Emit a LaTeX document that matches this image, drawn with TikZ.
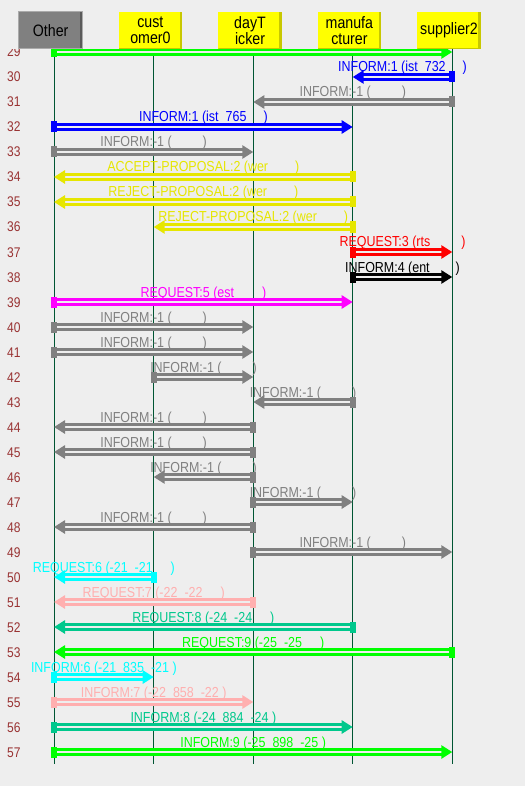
\documentclass[tikz,border=0pt]{standalone}
\usepackage{fontspec}
\setmainfont{Liberation Sans}[FakeStretch=0.86]
\usetikzlibrary{arrows.meta}

\definecolor{bgcol}{RGB}{238,238,238}
\definecolor{lifeln}{RGB}{0,85,51}
\definecolor{rownum}{RGB}{153,51,51}
\definecolor{msggreen}{RGB}{0,255,0}
\definecolor{msgblue}{RGB}{0,0,255}
\definecolor{msgred}{RGB}{255,0,0}
\definecolor{msgblack}{RGB}{0,0,0}
\definecolor{msgmag}{RGB}{255,0,255}
\definecolor{msgcyan}{RGB}{0,255,255}
\definecolor{msggray}{RGB}{128,128,128}
\definecolor{msgyel}{RGB}{230,230,0}
\definecolor{msgteal}{RGB}{0,200,140}
\definecolor{msgpink}{RGB}{255,175,175}
\definecolor{hdryel}{RGB}{255,255,0}
\definecolor{hdryeldk}{RGB}{200,200,0}
\definecolor{hdrgray}{RGB}{128,128,128}
\definecolor{hdrgraydk}{RGB}{90,90,90}
\definecolor{hdrgraylt}{RGB}{170,170,170}

\newcommand\gap[1]{\hspace*{#1pt}}

\begin{document}
\begin{tikzpicture}[x=1pt,y=-1pt,
  hdr/.style 2 args={minimum width=63.5pt,minimum height=36.7pt,inner sep=0pt,
    align=center,font=\fontsize{16.5}{16}\selectfont,fill=#1,
    path picture={\fill[#2] ([xshift=-2.5pt]path picture bounding box.north east)
      rectangle (path picture bounding box.south east);
      \fill[#2] (path picture bounding box.south west)
      rectangle ([yshift=1pt]path picture bounding box.south east);}},
  rowno/.style={anchor=base west,inner sep=0pt,text=rownum,
    font=\fontsize{14}{14}\selectfont},
  msg/.style={line width=3.7pt,double=bgcol,double distance=1.3pt,
    {Rectangle[length=6pt,width=11pt]}-{Triangle[length=11pt,width=13pt]},
    shorten <=-3pt},
  msglbl/.style={midway,anchor=base,yshift=5pt,inner sep=0pt,
    font=\fontsize{14.5}{16}\selectfont}
]
\fill[bgcol] (0,0) rectangle (525,786);
%\draw [help lines] (0,0) grid [step=25] (525,786);

% lifelines
\foreach \n/\x in {oth/54,cus/153.7,day/253.3,man/352.7,sup/452.3}
  \coordinate (\n) at (\x,48.7);
\coordinate (bot) at (0,764);
\foreach \n in {oth,cus,day,man,sup}
  \draw[lifeln,line width=1pt] (\n) -- (\n|-bot);

% row numbers
\foreach \r in {29,...,57}{
  \coordinate (r\r) at (0,{52+(\r-29)*25});
  \node[rowno] (n\r) at ([xshift=7pt,yshift=-5pt]r\r) {\r};
}

% messages
\foreach \r/\a/\b/\c/\t in {
  29/oth/sup/msggreen/{},
  30/sup/man/msgblue/{INFORM:1 (ist\gap{7}732\gap{17})},
  31/sup/day/msggray/{INFORM:-1 (\gap{31})},
  32/oth/man/msgblue/{INFORM:1 (ist\gap{7}765\gap{17})},
  33/oth/day/msggray/{INFORM:-1 (\gap{31})},
  34/man/oth/msgyel/{ACCEPT-PROPOSAL:2 (wer\gap{27})},
  35/man/oth/msgyel/{REJECT-PROPOSAL:2 (wer\gap{27})},
  36/man/cus/msgyel/{REJECT-PROPOSAL:2 (wer\gap{27})},
  37/man/sup/msgred/{REQUEST:3 (rts\gap{31})},
  38/man/sup/msgblack/{INFORM:4 (ent\gap{26})},
  39/oth/man/msgmag/{REQUEST:5 (est\gap{28})},
  40/oth/day/msggray/{INFORM:-1 (\gap{31})},
  41/oth/day/msggray/{INFORM:-1 (\gap{31})},
  42/cus/day/msggray/{INFORM:-1 (\gap{31})},
  43/man/day/msggray/{INFORM:-1 (\gap{31})},
  44/day/oth/msggray/{INFORM:-1 (\gap{31})},
  45/day/oth/msggray/{INFORM:-1 (\gap{31})},
  46/day/cus/msggray/{INFORM:-1 (\gap{31})},
  47/day/man/msggray/{INFORM:-1 (\gap{31})},
  48/day/oth/msggray/{INFORM:-1 (\gap{31})},
  49/day/sup/msggray/{INFORM:-1 (\gap{31})},
  50/cus/oth/msgcyan/{REQUEST:6 (-21\gap{7}-21\gap{18})},
  51/day/oth/msgpink/{REQUEST:7 (-22\gap{7}-22\gap{18})},
  52/man/oth/msgteal/{REQUEST:8 (-24\gap{7}-24\gap{18})},
  53/sup/oth/msggreen/{REQUEST:9 (-25\gap{7}-25\gap{18})},
  54/oth/cus/msgcyan/{INFORM:6 (-21\gap{7}835\gap{7}-21 )},
  55/oth/day/msgpink/{INFORM:7 (-22\gap{7}858\gap{7}-22 )},
  56/oth/man/msgteal/{INFORM:8 (-24\gap{7}884\gap{7}-24 )},
  57/oth/sup/msggreen/{INFORM:9 (-25\gap{7}898\gap{7}-25 )}}
  \draw[msg,color=\c] (\a|-r\r) -- (\b|-r\r) node[msglbl] {\t};

% header
\fill[bgcol] (0,0) rectangle (525,48.7);
\node[hdr={hdrgray}{hdrgraydk},draw=hdrgraylt,line width=1pt] (othbox)
  at ([xshift=-3.3pt,yshift=18.35pt]oth) {Other};
\node[hdr={hdryel}{hdryeldk}] (cusbox)
  at ([xshift=-3.3pt,yshift=18.35pt]cus) {cust\\omer0};
\node[hdr={hdryel}{hdryeldk}] (daybox)
  at ([xshift=-3.3pt,yshift=18.35pt]day) {dayT\\icker};
\node[hdr={hdryel}{hdryeldk}] (manbox)
  at ([xshift=-3.3pt,yshift=18.35pt]man) {manufa\\cturer};
\node[hdr={hdryel}{hdryeldk}] (supbox)
  at ([xshift=-3.3pt,yshift=18.35pt]sup) {supplier2};
\end{tikzpicture}
\end{document}
